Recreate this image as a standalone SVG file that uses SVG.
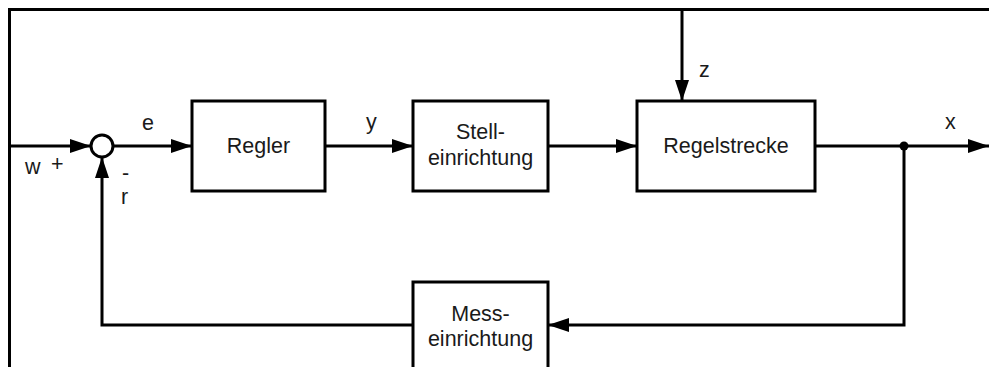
<svg xmlns="http://www.w3.org/2000/svg" width="989" height="367" viewBox="0 0 989 367">
<style>
.box{fill:#fff;stroke:#000;stroke-width:3}
.ln{fill:none;stroke:#000;stroke-width:3}
.arr{marker-end:url(#ah)}
text{font-family:"Liberation Sans",Arial,sans-serif;font-size:21.5px;fill:#1a1a1a}
.c{text-anchor:middle}
</style>
<defs>
<marker id="ah" markerUnits="userSpaceOnUse" markerWidth="21" markerHeight="14" refX="21" refY="7" orient="auto">
<path d="M0,0 L21,7 L0,14 z" fill="#000"/>
</marker>
</defs>
<rect width="989" height="367" fill="#fff"/>
<g id="frame">
<path class="ln" d="M9.5,367 V9.5 H989" stroke-width="2.5"/>
</g>
<g id="connectors">
<path class="ln arr" d="M9.5,146 H91"/>
<path class="ln arr" d="M113,146 H192"/>
<path class="ln arr" d="M325,146 H413"/>
<path class="ln arr" d="M548,146 H637"/>
<path class="ln arr" d="M682,9.5 V101"/>
<path class="ln arr" d="M815,146 H989"/>
<path class="ln arr" d="M904,146 V325 H548"/>
<path class="ln arr" d="M413,325 H102 V157"/>
<circle cx="904" cy="146" r="4.5" fill="#000"/>
</g>
<g id="sum">
<circle cx="102" cy="146" r="11" fill="#fff" stroke="#000" stroke-width="3"/>
</g>
<g id="regler">
<rect class="box" x="192" y="101" width="133" height="90"/>
<text class="c" x="258.5" y="153">Regler</text>
</g>
<g id="stell">
<rect class="box" x="413" y="101" width="135" height="90"/>
<text class="c" x="480.5" y="139">Stell-</text>
<text class="c" x="480.5" y="165">einrichtung</text>
</g>
<g id="strecke">
<rect class="box" x="637" y="101" width="178" height="90"/>
<text class="c" x="726" y="153">Regelstrecke</text>
</g>
<g id="mess">
<rect class="box" x="413" y="282" width="135" height="100"/>
<text class="c" x="480.5" y="321">Mess-</text>
<text class="c" x="480.5" y="346">einrichtung</text>
</g>
<g id="labels">
<text x="142" y="130">e</text>
<text x="366" y="129">y</text>
<text x="699" y="77">z</text>
<text x="945" y="129">x</text>
<text x="25" y="174">w</text>
<text x="51" y="171">+</text>
<text x="122" y="180">-</text>
<text x="121" y="204">r</text>
</g>
</svg>
